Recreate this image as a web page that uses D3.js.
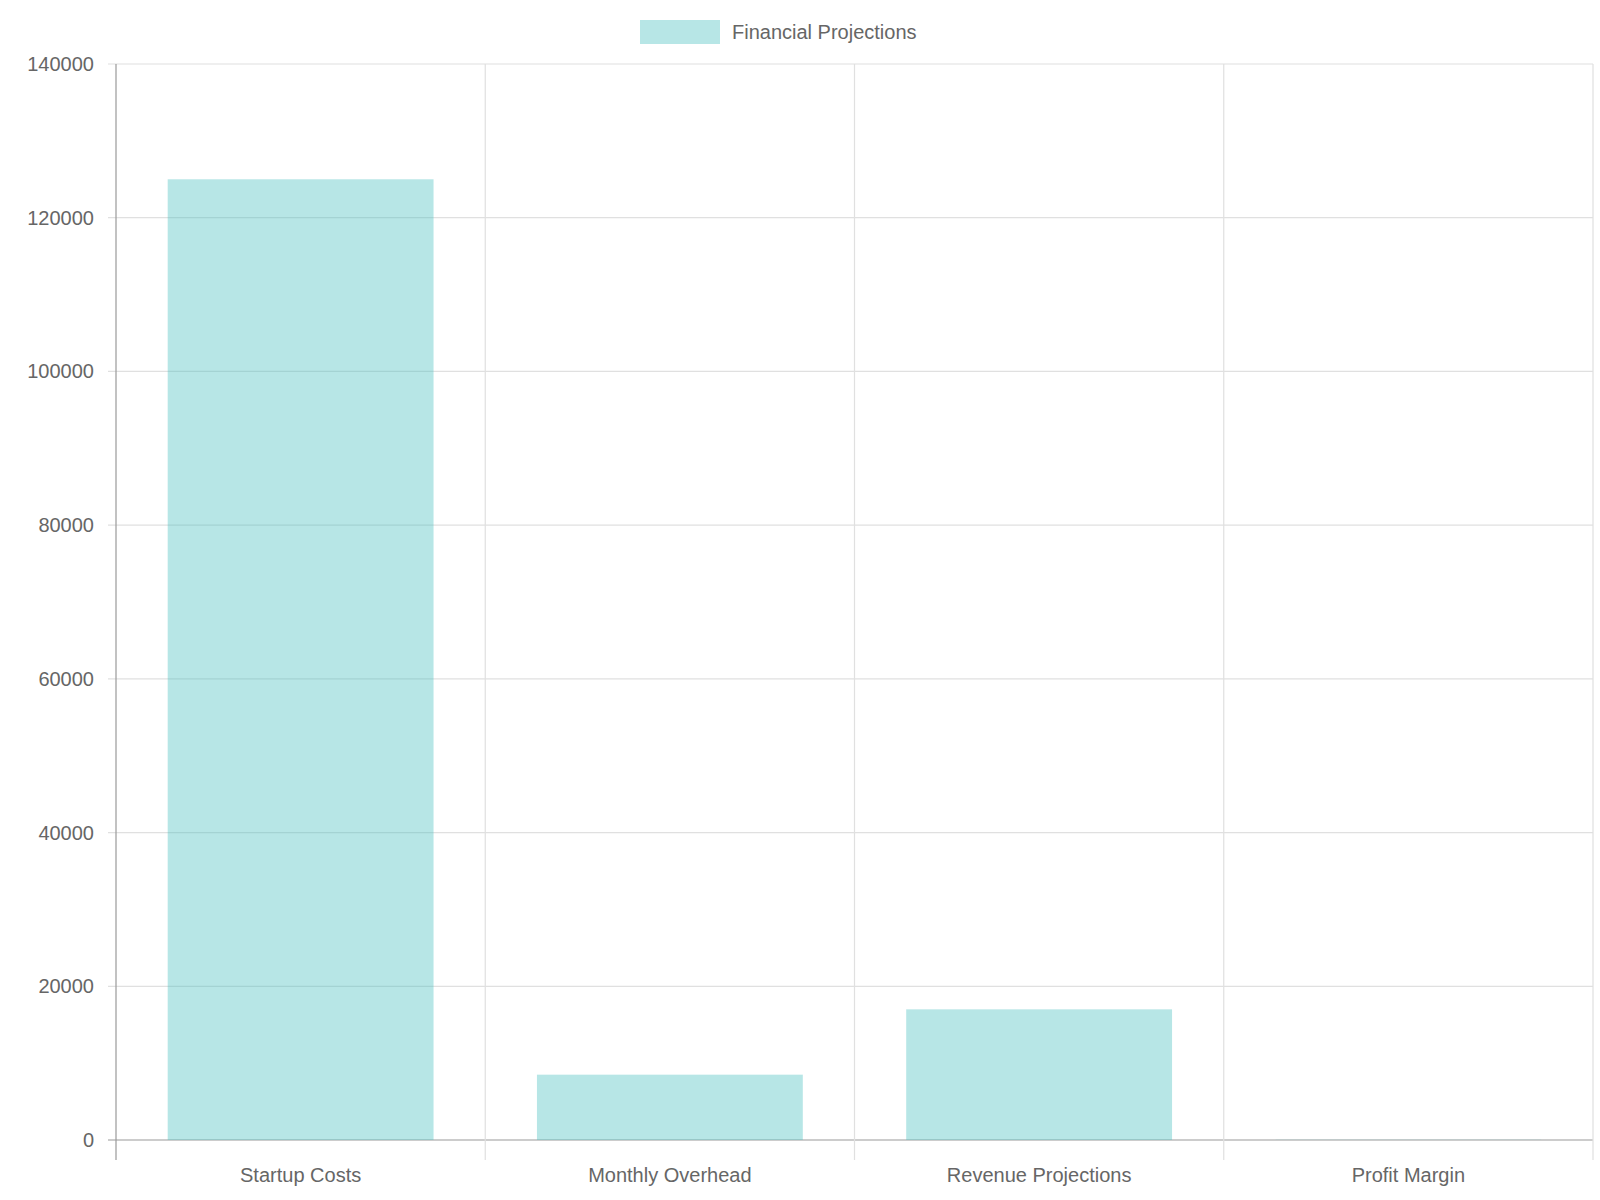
<!DOCTYPE html>
<html><head><meta charset="utf-8">
<script src="https://cdn.jsdelivr.net/npm/d3@7"></script>
<style>body{margin:0;background:#fff}text{font-family:"Liberation Sans",Arial,sans-serif;fill:#666}</style>
</head><body>
<svg id="c" width="1600" height="1200"></svg>
<script>
const categories = ["Startup Costs","Monthly Overhead","Revenue Projections","Profit Margin"];
const values = [125000, 8500, 17000, 25];
const yTicks = [0,20000,40000,60000,80000,100000,120000,140000];
const seriesName = "Financial Projections";

const svg = d3.select("#c");
const L=116, R=1593, T=64, B=1140;
const x = d3.scaleBand().domain(categories).range([L,R]).paddingInner(0.28).paddingOuter(0.14);
const xb = d3.scaleBand().domain(categories).range([L,R]);
const y = d3.scaleLinear().domain([0,140000]).range([B,T]);

// horizontal grid
svg.append("g").selectAll("line").data(yTicks).join("line")
  .attr("x1",L-8).attr("x2",R).attr("y1",d=>y(d)).attr("y2",d=>y(d))
  .attr("stroke",d=>d===0?"#999":"#e0e0e0").attr("stroke-width",1.2);
// vertical grid
const vx = categories.map(c=>xb(c)).concat([R]);
svg.append("g").selectAll("line").data(vx).join("line")
  .attr("x1",d=>d).attr("x2",d=>d).attr("y1",T).attr("y2",B+20)
  .attr("stroke",(d,i)=>i===0?"#999":"#e0e0e0").attr("stroke-width",1.2);

svg.append("g").selectAll("rect").data(values).join("rect")
  .attr("x",(d,i)=>x(categories[i])).attr("width",x.bandwidth())
  .attr("y",d=>y(d)).attr("height",d=>B-y(d))
  .attr("fill","rgba(75,192,192,0.4)");

svg.append("g").selectAll("text").data(yTicks).join("text")
  .attr("x",L-22).attr("y",d=>y(d)).attr("dy","0.35em").attr("text-anchor","end")
  .attr("font-size",20).text(d=>d);
svg.append("g").selectAll("text").data(categories).join("text")
  .attr("x",d=>xb(d)+xb.bandwidth()/2).attr("y",B+42).attr("text-anchor","middle")
  .attr("font-size",20).text(d=>d);

const lg = svg.append("g");
lg.append("rect").attr("x",640).attr("y",20).attr("width",80).attr("height",24).attr("fill","rgba(75,192,192,0.4)");
lg.append("text").attr("x",732).attr("y",32).attr("dy","0.35em").attr("font-size",20).text(seriesName);
</script>
</body></html>
